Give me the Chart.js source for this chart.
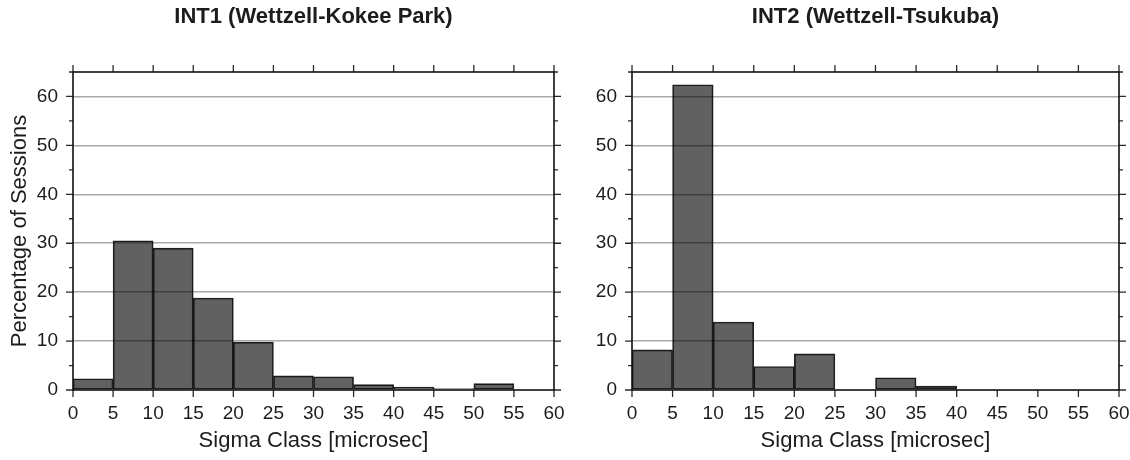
<!DOCTYPE html>
<html>
<head>
<meta charset="utf-8">
<script src="https://cdn.jsdelivr.net/npm/chart.js@4.4.1/dist/chart.umd.min.js"></script>
<style>
  html, body { margin: 0; padding: 0; background: #ffffff; }
  #wrap { position: relative; width: 1130px; height: 460px; overflow: hidden; }
  canvas { position: absolute; top: 0; }
  #c1 { left: 0; }
  #c2 { left: 593px; }
</style>
</head>
<body>
<div id="wrap">
  <canvas id="c1" width="593" height="460"></canvas>
  <canvas id="c2" width="537" height="460"></canvas>
</div>
<script>
// Histogram bins of the formal error (sigma) in microseconds
const binEdges = [0, 5, 10, 15, 20, 25, 30, 35, 40, 45, 50, 55, 60];
// Percentage of sessions per sigma class
const int1Percent = [2.3, 30.5, 29.0, 18.8, 9.8, 2.9, 2.7, 1.1, 0.6, 0.3, 1.3, 0];
const int2Percent = [8.2, 62.4, 13.9, 4.8, 7.4, 0, 2.5, 0.8, 0, 0, 0, 0];
// Axis ticks
const xTickValues = binEdges;
const yTickValues = [0, 10, 20, 30, 40, 50, 60];
const yMinorValues = [0, 5, 10, 15, 20, 25, 30, 35, 40, 45, 50, 55, 60, 65];

const titles = ['INT1 (Wettzell-Kokee Park)', 'INT2 (Wettzell-Tsukuba)'];
const xTitle = 'Sigma Class [microsec]';
const yTitle = 'Percentage of Sessions';

const FONT = '"Liberation Sans", Arial, Helvetica, sans-serif';
const TEXT = '#1c1c1c';
Chart.defaults.font.family = FONT;
Chart.defaults.color = TEXT;

// Frame around the plot area plus outward tick marks on all four sides
const frameTicks = {
  id: 'frameTicks',
  afterDraw(chart) {
    const { ctx, chartArea: a, scales: { x, y } } = chart;
    ctx.save();
    ctx.strokeStyle = '#2a2a2a';
    ctx.lineWidth = 1.3;
    ctx.beginPath();
    xTickValues.forEach(v => {
      const px = x.getPixelForValue(v);
      ctx.moveTo(px, a.bottom); ctx.lineTo(px, a.bottom + 7);
      ctx.moveTo(px, a.top); ctx.lineTo(px, a.top - 7);
    });
    yMinorValues.forEach(v => {
      const py = y.getPixelForValue(v);
      const len = v % 10 === 0 ? 7 : 4;
      ctx.moveTo(a.left, py); ctx.lineTo(a.left - len, py);
      ctx.moveTo(a.right, py); ctx.lineTo(a.right + len, py);
    });
    ctx.stroke();
    ctx.strokeStyle = '#111111';
    ctx.lineWidth = 1.6;
    ctx.strokeRect(a.left, a.top, a.right - a.left, a.bottom - a.top);
    ctx.restore();
  }
};

function makeChart(canvasId, title, values, opts) {
  const centers = binEdges.slice(0, -1).map((e, i) => (e + binEdges[i + 1]) / 2);
  return new Chart(document.getElementById(canvasId), {
    type: 'bar',
    data: {
      datasets: [{
        data: centers.map((c, i) => ({ x: c, y: values[i] })),
        backgroundColor: 'rgba(0,0,0,0.62)',
        borderColor: 'rgba(0,0,0,0.85)',
        borderWidth: 1,
        borderSkipped: false,
        barPercentage: 1,
        categoryPercentage: 1
      }]
    },
    options: {
      responsive: false,
      animation: false,
      devicePixelRatio: 1,
      layout: { padding: { left: 0, right: opts.rightPad, top: 0, bottom: 0 } },
      plugins: {
        legend: { display: false },
        tooltip: { enabled: true },
        title: {
          display: true,
          text: title,
          fullSize: false,
          color: TEXT,
          font: { family: FONT, size: 22, weight: 'bold' },
          padding: { top: 3.5, bottom: 42.1 }
        }
      },
      scales: {
        x: {
          type: 'linear',
          min: 0, max: 60,
          offset: false,
          afterFit(s) { s.height = 70; s.paddingLeft = 0; s.paddingRight = 0; },
          border: { display: false },
          grid: { display: false, drawTicks: false, offset: false },
          ticks: {
            stepSize: 5, autoSkip: false, maxRotation: 0, padding: 12,
            color: TEXT, font: { family: FONT, size: 19 }
          },
          title: {
            display: true, text: xTitle, color: TEXT,
            font: { family: FONT, size: 22 },
            padding: { top: 0, bottom: 6 }
          }
        },
        y: {
          min: 0, max: 65,
          afterFit(s) { s.width = opts.yWidth; s.paddingTop = 0; s.paddingBottom = 0; },
          border: { display: false },
          grid: {
            drawTicks: false,
            lineWidth: 1.5,
            color: c => (c.tick && c.tick.value === 0) ? 'rgba(0,0,0,0)' : '#a9a9a9'
          },
          ticks: {
            stepSize: 10, includeBounds: false, padding: 15,
            color: TEXT, font: { family: FONT, size: 19 }
          },
          title: {
            display: opts.showYTitle, text: yTitle, color: TEXT,
            font: { family: FONT, size: 22 },
            padding: { top: 7, bottom: 0 }
          }
        }
      }
    },
    plugins: [frameTicks]
  });
}

makeChart('c1', titles[0], int1Percent, { yWidth: 73, rightPad: 39, showYTitle: true });
makeChart('c2', titles[1], int2Percent, { yWidth: 39, rightPad: 11, showYTitle: false });
</script>
</body>
</html>
